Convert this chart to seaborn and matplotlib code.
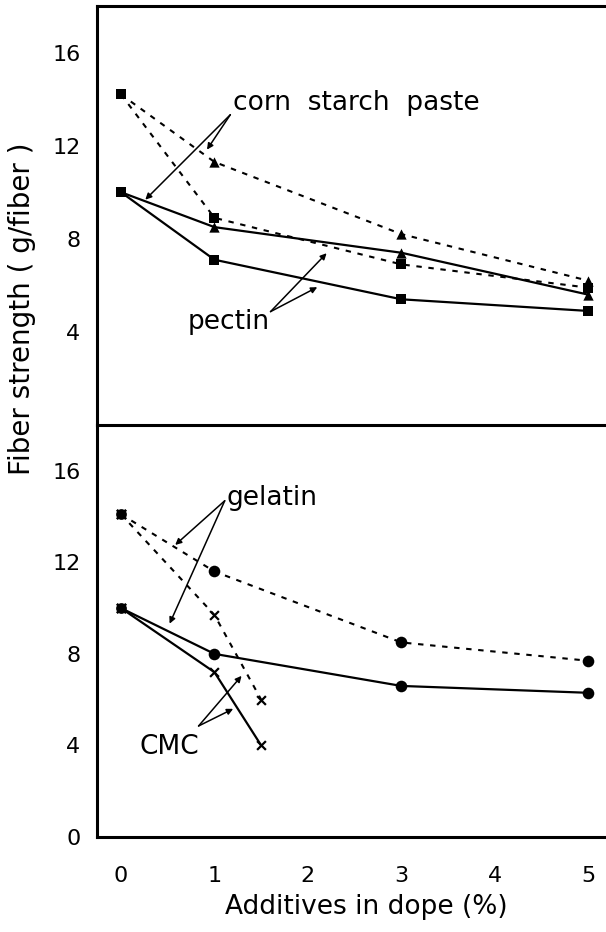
import matplotlib
matplotlib.use("Agg")
import matplotlib.pyplot as plt
import seaborn as sns

sns.set_style("white")
plt.rcParams['font.family'] = ['DejaVu Sans']
plt.rcParams['text.color'] = 'black'

# ---- data -------------------------------------------------------------
conc = [0, 1, 3, 5]                      # additive in dope (%)
corn_dashed = [14.2, 11.3, 8.2, 6.2]     # corn starch paste, upper series
corn_solid = [10.0, 8.5, 7.4, 5.6]       # corn starch paste, lower series
pectin_dashed = [14.2, 8.9, 6.9, 5.9]
pectin_solid = [10.0, 7.1, 5.4, 4.9]

gelatin_dashed = [14.1, 11.6, 8.5, 7.7]
gelatin_solid = [10.0, 8.0, 6.6, 6.3]
cmc_conc = [0, 1, 1.5]
cmc_dashed = [14.1, 9.7, 6.0]
cmc_solid = [10.0, 7.2, 4.0]

x_ticks = [0, 1, 2, 3, 4, 5]
y_ticks_top = [4, 8, 12, 16]
y_ticks_bottom = [0, 4, 8, 12, 16]

# ---- figure -----------------------------------------------------------
W, H = 606, 932
fig = plt.figure(figsize=(W / 100, H / 100), dpi=100)
left = 97 / W
ax_top = fig.add_axes([left, 1 - 425 / H, 1 - left, (425 - 6) / H])
ax_bot = fig.add_axes([left, 1 - 837 / H, 1 - left, (837 - 425) / H])

DASH = (0, (2.6, 3.2))
LW = 1.5

def draw_line(ax, x, y, dashed):
    sns.lineplot(x=x, y=y, ax=ax, color='k', lw=LW if dashed else 1.6,
                 linestyle=DASH if dashed else '-', estimator=None,
                 sort=False, zorder=2)

def draw_marks(ax, x, y, marker, s, lw=0):
    sns.scatterplot(x=x, y=y, ax=ax, marker=marker, s=s, color='k',
                    edgecolor='k', linewidth=lw, zorder=3)

# top panel
for ys, dashed in [(corn_dashed, True), (pectin_dashed, True),
                   (corn_solid, False), (pectin_solid, False)]:
    draw_line(ax_top, conc, ys, dashed)
draw_marks(ax_top, conc[1:], corn_dashed[1:], '^', 55)
draw_marks(ax_top, conc[1:], corn_solid[1:], '^', 55)
draw_marks(ax_top, conc[1:], pectin_dashed[1:], 's', 45)
draw_marks(ax_top, conc[1:], pectin_solid[1:], 's', 45)
draw_marks(ax_top, [conc[0], conc[0]], [corn_dashed[0], corn_solid[0]], 's', 45)

# bottom panel
draw_line(ax_bot, conc, gelatin_dashed, True)
draw_line(ax_bot, conc, gelatin_solid, False)
draw_line(ax_bot, cmc_conc, cmc_dashed, True)
draw_line(ax_bot, cmc_conc, cmc_solid, False)
draw_marks(ax_bot, conc[1:], gelatin_dashed[1:], 'o', 70)
draw_marks(ax_bot, conc[1:], gelatin_solid[1:], 'o', 70)
draw_marks(ax_bot, cmc_conc[1:], cmc_dashed[1:], 'x', 40, lw=1.6)
draw_marks(ax_bot, cmc_conc[1:], cmc_solid[1:], 'x', 40, lw=1.6)
draw_marks(ax_bot, [0, 0], [gelatin_dashed[0], gelatin_solid[0]], 'o', 60)
draw_marks(ax_bot, [0, 0], [cmc_dashed[0], cmc_solid[0]], 'x', 45, lw=1.8)

# axes styling
for ax in (ax_top, ax_bot):
    ax.set_xlim(-0.257, 5.19)
    ax.set_ylim(0, 18)
    ax.set_xlabel('')
    ax.set_ylabel('')
    ax.spines['right'].set_visible(False)
    for sp in ('left', 'top', 'bottom'):
        ax.spines[sp].set_linewidth(2.2)
        ax.spines[sp].set_color('k')
    ax.tick_params(axis='both', length=0, labelsize=16, colors='k')
    ax.tick_params(axis='y', pad=12)
    ax.set_facecolor('white')

ax_top.set_yticks(y_ticks_top)
ax_top.set_yticklabels([str(v) for v in y_ticks_top])
ax_top.set_xticks([])
ax_top.spines['bottom'].set_visible(False)

ax_bot.set_yticks(y_ticks_bottom)
ax_bot.set_yticklabels([str(v) for v in y_ticks_bottom])
ax_bot.set_xticks(x_ticks)
ax_bot.set_xticklabels([str(v) for v in x_ticks])
ax_bot.tick_params(axis='x', pad=21)

fig.text(22 / W, 1 - 309 / H, 'Fiber strength ( g/fiber )', rotation=90,
         ha='center', va='center', fontsize=20, color='k')
fig.text(366 / W, 1 - 907 / H, 'Additives in dope (%)', ha='center',
         va='center', fontsize=19, color='k')

# annotations
TXT = 19
arrow = dict(arrowstyle='-|>', lw=1.1, color='k', mutation_scale=9,
             shrinkA=0, shrinkB=0)
ax_top.text(1.20, 13.85, 'corn  starch  paste', fontsize=TXT, ha='left',
            va='center', color='k')
for head in [(0.92, 11.83), (0.26, 9.68)]:
    ax_top.annotate('', xy=head, xytext=(1.17, 13.33), arrowprops=arrow)
ax_top.text(0.71, 4.43, 'pectin', fontsize=TXT, ha='left', va='center', color='k')
for head in [(2.20, 7.38), (2.10, 5.92)]:
    ax_top.annotate('', xy=head, xytext=(1.60, 4.87), arrowprops=arrow)

ax_bot.text(1.13, 14.81, 'gelatin', fontsize=TXT, ha='left', va='center', color='k')
for head in [(0.58, 12.76), (0.52, 9.32)]:
    ax_bot.annotate('', xy=head, xytext=(1.11, 14.69), arrowprops=arrow)
ax_bot.text(0.20, 3.93, 'CMC', fontsize=TXT, ha='left', va='center', color='k')
for head in [(1.29, 7.04), (1.20, 5.60)]:
    ax_bot.annotate('', xy=head, xytext=(0.83, 4.85), arrowprops=arrow)

fig.savefig('out.png', dpi=100, facecolor='white')
